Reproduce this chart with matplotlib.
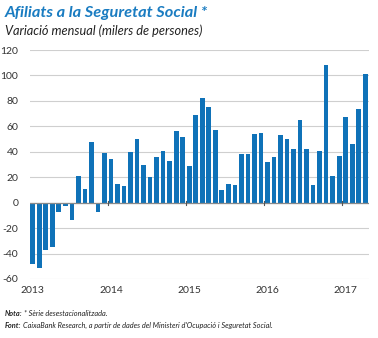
import matplotlib
matplotlib.use("Agg")
import matplotlib.pyplot as plt
import numpy as np

# Data: monthly change (thousands of persons), Jan 2013 - Apr 2017
values_2013 = [-48, -51, -37, -35, -7, -3, -14, 21, 11, 48, -7, 39]
values_2014 = [34, 15, 13, 40, 50, 30, 20, 36, 41, 33, 56, 52]
values_2015 = [29, 69, 82, 75, 57, 10, 15, 14, 38, 38, 54, 55]
values_2016 = [32, 36, 53, 50, 42, 65, 42, 14, 41, 108, 21, 37]
values_2017 = [67, 46, 74, 101]
years = ["2013", "2014", "2015", "2016", "2017"]
yticks = [-60, -40, -20, 0, 20, 40, 60, 80, 100, 120]

values = values_2013 + values_2014 + values_2015 + values_2016 + values_2017
x = np.arange(len(values))

BLUE = "#0f72b8"
TITLE_BLUE = "#1a7cc1"
FONT = "Lato"

fig = plt.figure(figsize=(3.78, 3.38), dpi=100)
ax = fig.add_axes([29.5 / 378, 1 - 279 / 338, 339 / 378, 229 / 338])

ax.bar(x, values, width=0.72, color=BLUE, zorder=3)
ax.set_xlim(-0.5, len(values) - 0.5)
ax.set_ylim(-60, 120)
ax.set_yticks(yticks)
ax.set_yticklabels([str(v) for v in yticks], fontsize=7.5, family=FONT, color="#333333")
ax.yaxis.grid(True, color="#cfcfcf", linewidth=0.8, zorder=0)
ax.axhline(0, color="#8a8a8a", linewidth=0.9, zorder=4)
ax.tick_params(axis="y", length=0, pad=8)

year_pos = [12 * i for i in range(len(years))]
ax.set_xticks(year_pos)
ax.set_xticklabels(years, fontsize=7.5, family=FONT, color="#333333")
ax.tick_params(axis="x", length=0, pad=5)
for b in year_pos[1:]:
    ax.plot([b - 0.5, b - 0.5], [-1.5, 1.5], color="#555555", linewidth=0.8, zorder=5)

for s in ax.spines.values():
    s.set_visible(False)

fig.text(5 / 378, 1 - 13 / 338, "Afiliats a la Seguretat Social *", fontsize=11.8,
         family=FONT, weight="bold", style="italic", color=TITLE_BLUE, va="center")
fig.text(5 / 378, 1 - 31 / 338, "Variació mensual (milers de persones)", fontsize=9.2,
         family=FONT, style="italic", color="#222222", va="center")

fig.canvas.draw()
renderer = fig.canvas.get_renderer()

def mixed(y, bold, rest):
    t = fig.text(5 / 378, y, bold, fontsize=5.3, family=FONT, weight="bold",
                 style="italic", color="#222222", va="center")
    bb = t.get_window_extent(renderer)
    fig.text(bb.x1 / fig.bbox.width + 1.5 / 378, y, rest, fontsize=5.3, family=FONT,
             style="italic", color="#222222", va="center")

mixed(1 - 313 / 338, "Nota:", "* Sèrie desestacionalitzada.")
mixed(1 - 325 / 338, "Font:", "CaixaBank Research, a partir de dades del Ministeri d'Ocupació i Seguretat Social.")

fig.savefig("out.png", dpi=100)
